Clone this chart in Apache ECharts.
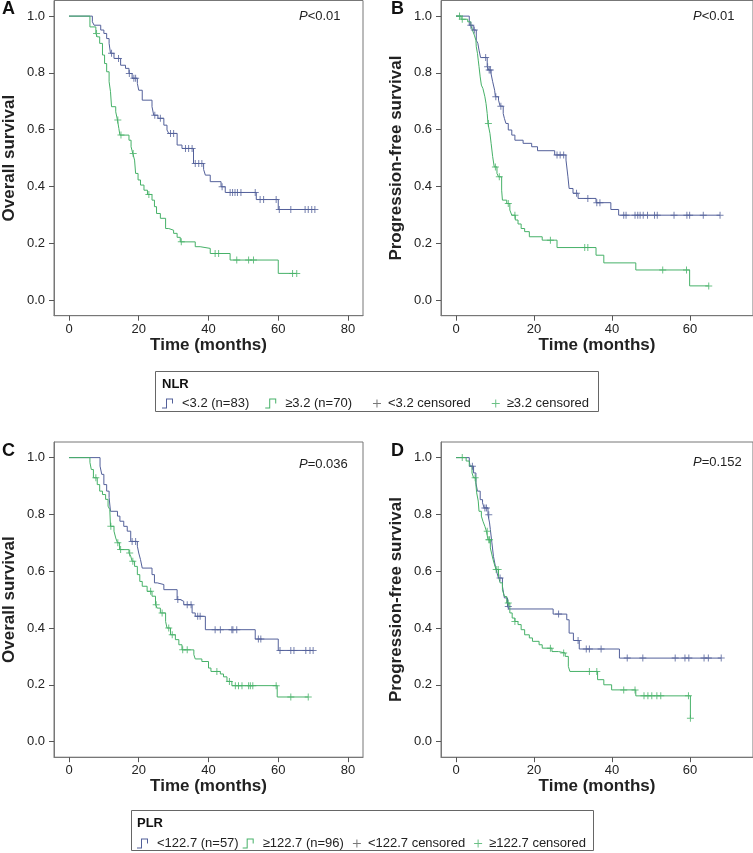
<!DOCTYPE html>
<html>
<head>
<meta charset="utf-8">
<title>Survival by NLR and PLR</title>
<script src="https://cdn.jsdelivr.net/npm/echarts@6/dist/echarts.min.js"></script>
<style>
  html, body { margin: 0; padding: 0; background: #fff; }
  #main { width: 753px; height: 853px; }
</style>
</head>
<body>
<div id="main"></div>
<script>
// axis ticks
var timeTicks = [0, 20, 40, 60, 80];
var survTicks = [0, 0.2, 0.4, 0.6, 0.8, 1.0];

// legend names
var nlrNames = ['<3.2 (n=83)', '≥3.2 (n=70)', '<3.2 censored', '≥3.2 censored'];
var plrNames = ['<122.7 (n=57)', '≥122.7 (n=96)', '<122.7 censored', '≥122.7 censored'];
var pValues = ['<0.01', '<0.01', '=0.036', '=0.152'];

// curves: [month, survival after the step]; censored: months only

// A - overall survival by NLR
var osNlrLow = [[0, 1], [6.7, 0.980], [7.2, 0.968], [9.1, 0.951], [10.0, 0.939], [10.8, 0.921], [11.5, 0.904],
  [11.9, 0.869], [12.9, 0.851], [14.8, 0.827], [16.2, 0.816], [17.2, 0.798], [18.1, 0.781], [19.6, 0.763],
  [20.0, 0.739], [21.0, 0.704], [23.8, 0.681], [24.3, 0.651], [25.5, 0.640], [27.2, 0.616], [28.1, 0.599],
  [28.6, 0.587], [31.0, 0.546], [32.4, 0.534], [35.7, 0.481], [38.6, 0.460], [39.1, 0.440], [40.5, 0.417],
  [43.6, 0.399], [44.8, 0.379], [53.7, 0.354], [60.0, 0.319]];
var osNlrLowCens = [12.2, 14.2, 17.3, 18.6, 19.1, 24.6, 26.2, 29.1, 30.0, 33.4, 34.3, 35.3, 36.2, 37.2, 38.1,
  43.9, 46.2, 46.9, 47.6, 48.3, 49.3, 53.4, 54.8, 55.8, 59.4, 60.3, 63.6, 67.7, 68.6, 69.6, 70.5];
var osNlrHigh = [[0, 1], [6.0, 0.962], [7.7, 0.939], [8.1, 0.927], [8.8, 0.904], [9.6, 0.863], [10.2, 0.833],
  [10.8, 0.804], [11.5, 0.769], [11.9, 0.734], [12.2, 0.681], [13.4, 0.663], [13.9, 0.634], [14.3, 0.604],
  [14.6, 0.581], [17.2, 0.563], [17.8, 0.540], [18.3, 0.516], [18.8, 0.493], [19.1, 0.446], [19.8, 0.423],
  [20.5, 0.405], [21.5, 0.387], [22.5, 0.372], [23.8, 0.352], [24.5, 0.329], [25.1, 0.305], [26.2, 0.288],
  [27.7, 0.252], [28.6, 0.246], [30.0, 0.235], [31.0, 0.221], [31.9, 0.205], [36.2, 0.188], [37.6, 0.182],
  [40.5, 0.164], [46.2, 0.141], [60.0, 0.094]];
var osNlrHighCens = [7.9, 14.0, 14.9, 18.4, 22.9, 32.2, 41.9, 42.9, 48.1, 51.5, 52.9, 64.1, 65.3];

// B - progression-free survival by NLR
var pfsNlrLow = [[0, 1], [3.4, 0.968], [4.4, 0.951], [5.2, 0.915], [5.6, 0.904], [5.9, 0.880], [6.3, 0.854],
  [8.0, 0.822], [8.4, 0.810], [9.0, 0.796], [9.4, 0.769], [9.9, 0.739], [10.1, 0.716], [10.9, 0.704],
  [11.3, 0.683], [12.1, 0.657], [12.4, 0.640], [12.8, 0.622], [13.4, 0.599], [14.3, 0.581], [15.1, 0.563],
  [17.2, 0.552], [19.4, 0.540], [20.9, 0.526], [25.3, 0.511], [28.2, 0.493], [28.7, 0.434], [29.0, 0.393],
  [30.0, 0.376], [31.3, 0.358], [35.9, 0.343], [39.7, 0.319], [41.7, 0.299]];
var pfsNlrLowCens = [3.8, 4.7, 7.6, 8.1, 8.5, 8.8, 10.2, 11.5, 25.9, 26.7, 27.6, 30.9, 33.8, 36.1, 36.9,
  43.0, 43.6, 45.9, 46.6, 47.2, 48.0, 49.1, 50.9, 51.6, 55.9, 59.2, 59.9, 63.4, 67.7];
var pfsNlrHigh = [[0, 1], [1.3, 0.989], [3.0, 0.980], [3.8, 0.968], [4.2, 0.951], [4.7, 0.933], [5.1, 0.915],
  [5.2, 0.892], [5.5, 0.869], [5.7, 0.845], [5.9, 0.822], [6.2, 0.786], [6.5, 0.757], [6.9, 0.745],
  [7.4, 0.716], [7.7, 0.692], [8.0, 0.657], [8.2, 0.622], [8.7, 0.587], [9.0, 0.552], [9.4, 0.505],
  [9.8, 0.469], [10.5, 0.446], [10.9, 0.434], [11.7, 0.387], [11.9, 0.352], [13.0, 0.340], [13.8, 0.317],
  [14.3, 0.299], [15.2, 0.282], [15.9, 0.268], [16.7, 0.252], [17.6, 0.241], [18.8, 0.223], [22.1, 0.211],
  [25.9, 0.185], [35.9, 0.158], [37.9, 0.131], [46.1, 0.106], [59.9, 0.050]];
var pfsNlrHighCens = [0.9, 1.6, 8.3, 10.1, 11.1, 13.4, 15.1, 24.2, 33.0, 33.8, 53.0, 59.1, 64.8];

// C - overall survival by PLR
var osPlrLow = [[0, 1], [8.9, 0.970], [9.4, 0.941], [10.0, 0.905], [10.8, 0.882], [11.5, 0.859], [11.9, 0.811],
  [13.9, 0.794], [14.6, 0.776], [15.7, 0.758], [16.7, 0.741], [17.7, 0.705], [19.6, 0.688], [20.0, 0.664],
  [20.5, 0.641], [21.0, 0.611], [23.8, 0.588], [24.5, 0.559], [25.3, 0.553], [27.2, 0.535], [31.0, 0.500],
  [31.9, 0.494], [32.9, 0.482], [35.3, 0.453], [36.2, 0.441], [39.1, 0.394], [53.4, 0.361], [60.0, 0.321]];
var osPlrLowCens = [18.1, 19.1, 31.2, 33.9, 35.0, 36.9, 37.6, 41.9, 43.4, 46.7, 47.0, 48.1, 54.3, 55.0,
  60.5, 63.6, 64.5, 67.9, 69.1, 70.0];
var osPlrHigh = [[0, 1], [6.0, 0.983], [6.4, 0.958], [7.0, 0.929], [8.1, 0.905], [8.8, 0.882], [9.6, 0.870],
  [10.5, 0.853], [11.2, 0.829], [11.7, 0.817], [11.9, 0.758], [12.9, 0.741], [13.4, 0.717], [13.9, 0.700],
  [14.5, 0.676], [17.2, 0.664], [17.7, 0.653], [18.1, 0.635], [18.8, 0.617], [19.6, 0.588], [20.3, 0.564],
  [21.0, 0.547], [22.4, 0.529], [23.8, 0.512], [24.8, 0.482], [25.3, 0.470], [26.2, 0.453], [27.7, 0.423],
  [28.1, 0.400], [29.1, 0.376], [30.5, 0.359], [31.5, 0.341], [32.4, 0.323], [35.8, 0.306], [36.2, 0.291],
  [38.1, 0.282], [40.0, 0.259], [40.7, 0.247], [43.4, 0.238], [44.3, 0.228], [45.3, 0.212], [46.7, 0.197],
  [59.7, 0.157]];
var osPlrHighCens = [7.7, 12.0, 14.0, 14.8, 17.4, 18.3, 23.4, 25.0, 26.7, 28.6, 29.6, 32.6, 33.9, 42.4,
  46.0, 47.7, 48.6, 49.6, 51.5, 52.0, 52.7, 59.4, 63.6, 68.6];

// D - progression-free survival by PLR
var pfsPlrLow = [[0, 1], [3.4, 0.988], [3.6, 0.970], [4.5, 0.946], [5.1, 0.911], [5.5, 0.882], [6.2, 0.852],
  [6.8, 0.841], [7.2, 0.823], [8.2, 0.799], [8.6, 0.770], [8.8, 0.747], [9.2, 0.700], [9.6, 0.652],
  [10.1, 0.617], [10.5, 0.594], [10.9, 0.576], [11.9, 0.547], [12.4, 0.506], [13.2, 0.476], [13.6, 0.467],
  [24.9, 0.449], [28.4, 0.429], [29.0, 0.382], [30.1, 0.356], [31.6, 0.326], [41.9, 0.294]];
var pfsPlrLowCens = [4.2, 7.4, 7.8, 8.4, 11.3, 13.4, 26.3, 31.3, 33.4, 34.2, 37.2, 43.9, 47.9, 56.2, 58.7,
  59.7, 63.6, 64.7, 68.0];
var pfsPlrHigh = [[0, 1], [2.6, 0.988], [3.4, 0.970], [4.1, 0.946], [4.5, 0.929], [5.1, 0.905], [5.3, 0.876],
  [5.7, 0.847], [5.9, 0.811], [6.5, 0.794], [6.9, 0.776], [7.4, 0.758], [7.8, 0.741], [8.2, 0.711],
  [8.8, 0.682], [9.1, 0.664], [9.5, 0.641], [10.0, 0.617], [10.3, 0.606], [10.9, 0.582], [11.3, 0.559],
  [11.9, 0.535], [12.4, 0.511], [13.0, 0.488], [13.8, 0.453], [14.4, 0.435], [15.1, 0.423], [15.9, 0.412],
  [16.7, 0.394], [17.6, 0.376], [18.8, 0.365], [19.6, 0.353], [21.3, 0.341], [22.1, 0.329], [24.6, 0.317],
  [26.3, 0.312], [28.0, 0.300], [28.8, 0.265], [29.2, 0.247], [36.3, 0.218], [37.9, 0.200], [39.9, 0.182],
  [46.1, 0.161], [60.1, 0.082]];
var pfsPlrHighCens = [1.6, 4.9, 8.0, 8.4, 8.6, 10.3, 10.8, 13.4, 15.1, 24.2, 27.6, 34.2, 36.1, 43.0, 45.9,
  48.2, 49.2, 50.2, 51.5, 52.5, 59.6, 60.1];

var blue = '#53609a';
var green = '#46b168';
var font = '"Liberation Sans", Arial, sans-serif';
var plusIcon = 'path://M0,0M7,7M3,0H4V3H7V4H4V7H3V4H0V3H3Z';
// legend icons sit in a 15x10 box, drawn part on the left
var legendPlus = 'path://M0,0M15,10M8.5,1H9.5V4.5H13V5.5H9.5V9H8.5V5.5H5V4.5H8.5Z';
var stepIcon = 'path://M0,0M15,10M0,9H4V0H11V5H10V1H5V10H0Z';

// survival value at time t (step function)
function survAt(steps, t) {
  var s = steps[0][1];
  for (var i = 0; i < steps.length; i++) {
    if (steps[i][0] <= t) s = steps[i][1];
  }
  return s;
}

function curvePoints(steps, cens) {
  var pts = steps.slice();
  var last = steps[steps.length - 1];
  var end = cens.length ? cens[cens.length - 1] : last[0];
  if (end > last[0]) pts.push([end, last[1]]);
  return pts;
}

var panels = [
  { letter: 'A', left: 53, top: 0.5, width: 310, xmin: -4.3, xmax: 84.3, yname: 'Overall survival',
    names: nlrNames, low: osNlrLow, lowCens: osNlrLowCens, high: osNlrHigh, highCens: osNlrHighCens },
  { letter: 'B', left: 441, top: 0.5, width: 320, xmin: -3.85, xmax: 76.15, yname: 'Progression-free survival',
    names: nlrNames, low: pfsNlrLow, lowCens: pfsNlrLowCens, high: pfsNlrHigh, highCens: pfsNlrHighCens },
  { letter: 'C', left: 53, top: 442, width: 310, xmin: -4.3, xmax: 84.3, yname: 'Overall survival',
    names: plrNames, low: osPlrLow, lowCens: osPlrLowCens, high: osPlrHigh, highCens: osPlrHighCens },
  { letter: 'D', left: 441, top: 442, width: 320, xmin: -3.85, xmax: 76.15, yname: 'Progression-free survival',
    names: plrNames, low: pfsPlrLow, lowCens: pfsPlrLowCens, high: pfsPlrHigh, highCens: pfsPlrHighCens }
];
var letterPos = [[2, 0], [391, 0], [2, 442], [391, 442]];
var pPos = [[299, 9.5], [693, 9.5], [299, 457.5], [693, 455.5]];

var grids = [], xAxes = [], yAxes = [], series = [], titles = [];

panels.forEach(function (p, i) {
  grids.push({ left: p.left, top: p.top, width: p.width, height: 315.2, show: true,
    borderColor: '#777', borderWidth: 1, backgroundColor: 'transparent' });
  var ticks = timeTicks.filter(function (v) { return v <= p.xmax; });
  xAxes.push({
    gridIndex: i, type: 'value', min: p.xmin, max: p.xmax,
    axisLine: { show: true, onZero: false, lineStyle: { color: '#777' } },
    axisTick: { show: true, length: 5, customValues: ticks, lineStyle: { color: '#555' } },
    axisLabel: { customValues: ticks, margin: 7, fontSize: 13, color: '#222', fontFamily: font },
    splitLine: { show: false },
    name: 'Time (months)', nameLocation: 'middle', nameGap: 21,
    nameTextStyle: { fontSize: 17, fontWeight: 'bold', color: '#222', fontFamily: font }
  });
  yAxes.push({
    gridIndex: i, type: 'value', min: -0.055, max: 1.055,
    axisLine: { show: true, onZero: false, lineStyle: { color: '#777' } },
    axisTick: { show: true, length: 5, customValues: survTicks, lineStyle: { color: '#555' } },
    axisLabel: { customValues: survTicks, margin: 9, fontSize: 13, color: '#222', fontFamily: font,
      formatter: function (v) { return v.toFixed(1); } },
    splitLine: { show: false },
    name: p.yname, nameLocation: 'middle', nameGap: 36,
    nameTextStyle: { fontSize: 17, fontWeight: 'bold', color: '#222', fontFamily: font }
  });

  [[p.low, p.lowCens, blue, 0], [p.high, p.highCens, green, 1]].forEach(function (g) {
    series.push({
      name: p.names[g[3]], type: 'line', step: 'end', xAxisIndex: i, yAxisIndex: i,
      data: curvePoints(g[0], g[1]), showSymbol: false, symbol: 'none', silent: true,
      lineStyle: { color: g[2], width: 1 }, itemStyle: { color: g[2] }
    });
  });
  [[p.low, p.lowCens, blue, 2], [p.high, p.highCens, green, 3]].forEach(function (g) {
    series.push({
      name: p.names[g[3]], type: 'scatter', xAxisIndex: i, yAxisIndex: i, silent: true,
      symbol: plusIcon, symbolSize: 7, z: 3,
      data: g[1].map(function (t) { return [t, survAt(g[0], t)]; }),
      itemStyle: { color: g[2] }
    });
  });

  titles.push({ text: p.letter, left: letterPos[i][0], top: letterPos[i][1], padding: 0,
    textStyle: { fontSize: 18, fontWeight: 'bold', color: '#111', fontFamily: font } });
  titles.push({ text: '{i|P}' + pValues[i], left: pPos[i][0], top: pPos[i][1], padding: 0,
    textStyle: { fontSize: 13, fontWeight: 'normal', color: '#222', fontFamily: font,
      rich: { i: { fontStyle: 'italic', fontWeight: 'normal', fontSize: 13, color: '#222', fontFamily: font } } } });
});

function legendData(names) {
  return [
    { name: names[0], icon: stepIcon, itemStyle: { color: blue, borderWidth: 0 } },
    { name: names[1], icon: stepIcon, itemStyle: { color: green, borderWidth: 0 } },
    { name: names[2], icon: legendPlus, itemStyle: { color: '#555', borderWidth: 0 } },
    { name: names[3], icon: legendPlus, itemStyle: { color: green, borderWidth: 0 } }
  ];
}

var chart = echarts.init(document.getElementById('main'));
chart.setOption({
  animation: false,
  backgroundColor: '#fff',
  title: titles,
  grid: grids,
  xAxis: xAxes,
  yAxis: yAxes,
  legend: [
    { data: legendData(nlrNames), left: 162, top: 397, padding: 0, itemWidth: 15, itemHeight: 10, itemGap: 16,
      selectedMode: false, textStyle: { fontSize: 13, color: '#222', fontFamily: font } },
    { data: legendData(plrNames), left: 137, top: 837, padding: 0, itemWidth: 15, itemHeight: 10, itemGap: 4,
      selectedMode: false, textStyle: { fontSize: 13, color: '#222', fontFamily: font } }
  ],
  graphic: [
    { type: 'rect', shape: { x: 155.5, y: 371.5, width: 443, height: 40 },
      style: { fill: 'none', stroke: '#666', lineWidth: 1 } },
    { type: 'text', x: 162, y: 384, style: { text: 'NLR', font: 'bold 13px ' + font, fill: '#111', verticalAlign: 'middle' } },
    { type: 'rect', shape: { x: 131.5, y: 810.5, width: 462, height: 40 },
      style: { fill: 'none', stroke: '#666', lineWidth: 1 } },
    { type: 'text', x: 137, y: 823, style: { text: 'PLR', font: 'bold 13px ' + font, fill: '#111', verticalAlign: 'middle' } }
  ],
  series: series
});
</script>
</body>
</html>
